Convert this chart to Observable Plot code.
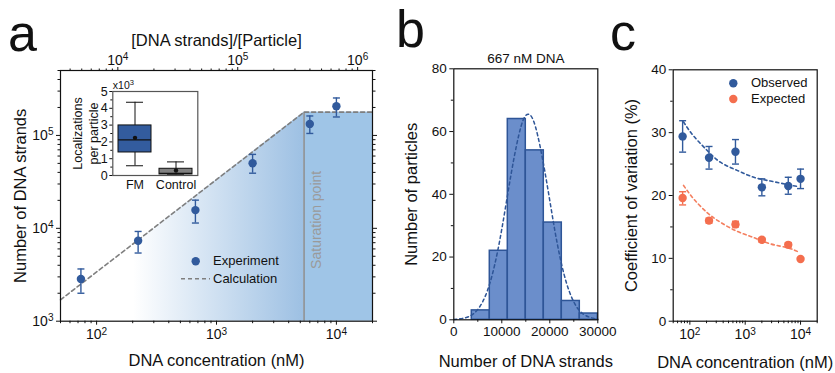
<!DOCTYPE html>
<html><head><meta charset="utf-8">
<script src="https://cdn.jsdelivr.net/npm/d3@7"></script>
<script src="https://cdn.jsdelivr.net/npm/@observablehq/plot@0.6"></script>
<style>
body{margin:0;background:#fff;}
#root{position:relative;width:835px;height:373px;font-family:"Liberation Sans",Arial,sans-serif;color:#111;overflow:hidden;background:#fff;}
#root > svg{position:absolute;}
.lbl{position:absolute;font-size:52px;line-height:52px;color:#111;}
.txt{position:absolute;font-size:13px;line-height:16px;white-space:nowrap;color:#111;}
</style></head><body><div id="root"></div>
<script>
// ---------- Panel a data ----------
const conc = [74, 222, 667, 2000, 6000, 10000];
const strands = [2850, 7350, 15700, 50100, 133000, 206000];
const strandsLo = [2000, 5420, 11400, 39200, 105000, 158000];
const strandsHi = [3650, 9250, 20100, 62500, 162000, 253000];
const calcX = [50, 5370, 20000];
const calcY = [1700, 178000, 178000];
const saturation = 5370;
const ratio = 66.5; // [DNA strands]/[Particle] per nM
const topMajor = [1e4, 1e5, 1e6];
const xMajor = [100, 1000, 10000];
const yMajorA = [1000, 10000, 100000];

// inset box plot (x10^3)
const boxCat = ["FM", "Control"];
const boxQ1 = [1.37, 0.06];
const boxQ3 = [2.98, 0.40];
const boxMed = [2.12, 0.13];
const boxMean = [2.24, 0.30];
const boxLo = [0.58, 0.04];
const boxHi = [4.36, 0.81];
const boxFill = ["#335c9e", "#808080"];

// ---------- Panel b data ----------
const binEdges = [3750, 7500, 11250, 15000, 18750, 22500, 26250, 30000];
const binCounts = [3, 22, 64, 54, 31, 6, 2];
const gaussX = [0, 2000, 4000, 6000, 8000, 10000, 12000, 14000, 15500, 17000, 19000, 21000, 23000, 25000, 27000, 29000, 30000];
const gaussY = [0.1, 0.5, 1.8, 5.7, 14.3, 28.9, 47.0, 61.6, 65.5, 61.6, 47.0, 28.9, 14.3, 5.7, 1.8, 0.5, 0.2];

// ---------- Panel c data ----------
const obsCV = [29.4, 26.0, 26.95, 21.3, 21.5, 22.65];
const obsLo = [26.9, 24.2, 25.0, 19.95, 20.2, 21.1];
const obsHi = [31.9, 27.8, 28.9, 22.65, 22.9, 24.2];
const expCV = [19.6, 16.0, 15.4, 12.95, 12.15, 9.9];
const expLo = [18.5, 15.6, 15.0, 12.6, 11.8, 9.7];
const expHi = [20.6, 16.4, 15.9, 13.2, 12.5, 10.1];
const fitX = [77, 116, 204, 355, 713, 1429, 2864, 5714, 9270];
const obsFit = [31.7, 29.5, 27.2, 25.3, 24.0, 22.9, 22.3, 21.75, 21.4];
const expFit = [21.6, 19.5, 17.3, 15.75, 14.3, 13.3, 12.3, 11.7, 11.0];

// ---------- helpers ----------
const BLUE = "#315a9c", ORANGE = "#f46e4e";
const sup = {"0":"⁰","1":"¹","2":"²","3":"³","4":"⁴","5":"⁵","6":"⁶","7":"⁷","8":"⁸","9":"⁹"};
const unsup = Object.fromEntries(Object.entries(sup).map(([k, v]) => [v, k]));
const pow10 = d => "10" + String(Math.round(Math.log10(d))).split("").map(c => sup[c]).join("");
const minorLog = (lo, hi) => { const out = []; for (let e = Math.floor(Math.log10(lo)); e <= Math.ceil(Math.log10(hi)); e++) for (let m = 2; m <= 9; m++) { const v = m * 10 ** e; if (v >= lo * 0.999 && v <= hi * 1.001) out.push(v); } return out; };
const none = () => "";
const cap = { draw(ctx, size) { const w = Math.sqrt(size / Math.PI); ctx.moveTo(-w, 0); ctx.lineTo(w, 0); } };
const style = {background: "transparent", fontFamily: "Liberation Sans, Arial, sans-serif", fontSize: "13px", color: "#111", overflow: "visible"};
const root = document.getElementById("root");
const ns = "http://www.w3.org/2000/svg";
// turn unicode superscripts into real raised tspans
function raiseSup(svg) {
  svg.querySelectorAll("text").forEach(t => {
    const s = t.textContent;
    const m = s.match(/^(.*?)([⁰¹²³⁴⁵⁶⁷⁸⁹]+)$/);
    if (!m || t.children.length > 1) return;
    const base = m[1], exp = m[2].split("").map(c => unsup[c]).join("");
    t.textContent = base;
    const ts = document.createElementNS(ns, "tspan");
    ts.setAttribute("dy", "-0.45em");
    ts.setAttribute("font-size", "0.72em");
    ts.textContent = exp;
    t.appendChild(ts);
  });
}
function place(svg, left, top) { raiseSup(svg); svg.style.left = left + "px"; svg.style.top = top + "px"; root.appendChild(svg); }
const xTitle = (t, dy) => Plot.text([0], {frameAnchor: "bottom", dy, lineAnchor: "middle", textAnchor: "middle", text: () => t, fontSize: 16.5});
const yTitle = (t, dx) => Plot.text([0], {frameAnchor: "left", dx, rotate: -90, lineAnchor: "middle", textAnchor: "middle", text: () => t, fontSize: 16.5});

// ---------- Panel a ----------
const ptsA = conc.map((c, i) => ({x: c, y: strands[i], lo: strandsLo[i], hi: strandsHi[i]}));
const calc = calcX.map((x, i) => ({x, y: calcY[i]}));
const A = Plot.plot({
  width: 400, height: 373, marginLeft: 60, marginRight: 28, marginTop: 70, marginBottom: 52.3,
  style,
  x: {type: "log", domain: [50, 20000], label: null},
  y: {type: "log", domain: [1000, 500000], label: null},
  marks: [
    Plot.areaY(calc.slice(0, 2), {x: "x", y1: () => 1000, y2: "y", fill: "url(#gradA)"}),
    Plot.rect([0], {x1: () => saturation, x2: () => calcX[2], y1: () => 1000, y2: () => calcY[1], fill: "#9fc5e7"}),
    Plot.ruleX([saturation], {x: d => d, y1: () => 1000, y2: () => calcY[1], stroke: "#8c8c8c", strokeWidth: 1.5}),
    Plot.line(calc, {x: "x", y: "y", stroke: "#7f7f7f", strokeDasharray: "4,3", strokeWidth: 1.6}),
    Plot.text([saturation], {x: d => d, frameAnchor: "middle", dx: 12, dy: 24, rotate: -90, textAnchor: "middle", lineAnchor: "middle", text: () => "Saturation point", fill: "#9a9a9a", fontSize: 14}),
    Plot.ruleX(ptsA, {x: "x", y1: "lo", y2: "hi", stroke: BLUE, strokeWidth: 1.4}),
    Plot.dot(ptsA, {x: "x", y: "lo", symbol: cap, r: 3.5, stroke: BLUE, fill: "none", strokeWidth: 1.4}),
    Plot.dot(ptsA, {x: "x", y: "hi", symbol: cap, r: 3.5, stroke: BLUE, fill: "none", strokeWidth: 1.4}),
    Plot.dot(ptsA, {x: "x", y: "y", r: 4.2, fill: BLUE}),
    Plot.frame({stroke: "#111", strokeWidth: 1.2}),
    Plot.axisX({ticks: xMajor, tickFormat: pow10, tickSize: 4, tickPadding: 4, label: null, fontSize: 14}),
    Plot.axisX({ticks: minorLog(50, 20000), tickFormat: none, tickSize: 2.5, label: null}),
    Plot.axisX({anchor: "top", ticks: topMajor.map(t => t / ratio), tickFormat: d => pow10(d * ratio), tickSize: 4, tickPadding: 2, label: null, fontSize: 14}),
    Plot.axisX({anchor: "top", ticks: minorLog(50 * ratio, 20000 * ratio).map(t => t / ratio), tickFormat: none, tickSize: 2.5, label: null}),
    Plot.axisY({ticks: yMajorA, tickFormat: pow10, tickSize: 4, tickPadding: 3, label: null, fontSize: 14}),
    Plot.axisY({ticks: minorLog(1000, 500000), tickFormat: none, tickSize: 2.5, label: null}),
    Plot.axisY({anchor: "right", ticks: yMajorA, tickFormat: none, tickSize: 4, label: null}),
    Plot.axisY({anchor: "right", ticks: minorLog(1000, 500000), tickFormat: none, tickSize: 2.5, label: null}),
    xTitle("DNA concentration (nM)", 40),
    Plot.text([0], {frameAnchor: "top", dy: -30, lineAnchor: "middle", text: () => "[DNA strands]/[Particle]", fontSize: 16.5}),
    yTitle("Number of DNA strands", -40)
  ]
});
const defs = document.createElementNS(ns, "defs");
defs.innerHTML = '<linearGradient id="gradA" x1="0" x2="1" y1="0" y2="0"><stop offset="0.3" stop-color="#ffffff"/><stop offset="1" stop-color="#9dc0e3"/></linearGradient>';
A.insertBefore(defs, A.firstChild);
place(A, 0, 0);

// ---------- Inset ----------
const box = boxCat.map((c, i) => ({c, q1: boxQ1[i], q3: boxQ3[i], med: boxMed[i], mean: boxMean[i], lo: boxLo[i], hi: boxHi[i], fill: boxFill[i]}));
const I = Plot.plot({
  width: 145, height: 120, marginLeft: 52.3, marginRight: 7.7, marginTop: 13, marginBottom: 23,
  style: {...style, fontSize: "12.5px"},
  x: {type: "band", domain: boxCat, paddingInner: 0.2, paddingOuter: 0.12, label: null},
  y: {domain: [0, 5], label: null},
  marks: [
    Plot.ruleX(box, {x: "c", y1: "lo", y2: "hi", stroke: "#111", strokeWidth: 1}),
    Plot.tickY(box, {x: "c", y: "lo", stroke: "#111", insetLeft: 8, insetRight: 8}),
    Plot.tickY(box, {x: "c", y: "hi", stroke: "#111", insetLeft: 8, insetRight: 8}),
    Plot.barY(box, {x: "c", y1: "q1", y2: "q3", fill: "fill", stroke: "#111", strokeWidth: 1}),
    Plot.tickY(box, {x: "c", y: "med", stroke: "#111", strokeWidth: 1.2}),
    Plot.dot(box, {x: "c", y: "mean", r: 2.2, fill: "#111"}),
    Plot.frame({stroke: "#555", strokeWidth: 1.2}),
    Plot.axisY({ticks: [0, 1, 2, 3, 4, 5], tickFormat: d3.format("d"), tickSize: 3, tickPadding: 2, label: null}),
    Plot.axisY({ticks: [0.5, 1.5, 2.5, 3.5, 4.5], tickFormat: none, tickSize: 2, label: null}),
    Plot.axisX({tickSize: 0, tickPadding: 5, label: null}),
    Plot.text([0], {frameAnchor: "top-left", dy: -6, textAnchor: "start", lineAnchor: "middle", text: () => "x10³", fontSize: 10.5}),
    Plot.text([0], {frameAnchor: "left", dx: -28, rotate: -90, textAnchor: "middle", lineAnchor: "middle", lineHeight: 1.33, text: () => "Localizations\nper particle", fontSize: 12.5})
  ]
});
place(I, 60, 78);

// ---------- Panel b ----------
const bins = binCounts.map((n, i) => ({x1: binEdges[i], x2: binEdges[i + 1], n}));
const gauss = gaussX.map((x, i) => ({x, y: gaussY[i]}));
const B = Plot.plot({
  width: 210, height: 373, marginLeft: 53.3, marginRight: 12.7, marginTop: 68.3, marginBottom: 53.7,
  style,
  x: {domain: [0, 30000], label: null},
  y: {domain: [0, 80], label: null},
  marks: [
    Plot.rectY(bins, {x1: "x1", x2: "x2", y: "n", fill: "#6b8ecb", stroke: "#2e5597", strokeWidth: 1.5}),
    Plot.line(gauss, {x: "x", y: "y", curve: "natural", stroke: "#2e5597", strokeDasharray: "3,3", strokeWidth: 1.5}),
    Plot.frame({stroke: "#111", strokeWidth: 1.2}),
    Plot.axisX({ticks: [0, 10000, 20000, 30000], tickFormat: d3.format("d"), tickSize: 4, tickPadding: 3, label: null, fontSize: 13.5}),
    Plot.axisX({ticks: [5000, 15000, 25000], tickFormat: none, tickSize: 2.5, label: null}),
    Plot.axisY({ticks: [0, 20, 40, 60, 80], tickSize: 4, tickPadding: 3, label: null, fontSize: 13.5}),
    Plot.axisY({ticks: [10, 30, 50, 70], tickFormat: none, tickSize: 2.5, label: null}),
    Plot.text([0], {frameAnchor: "top", dy: -10, lineAnchor: "middle", text: () => "667 nM DNA", fontSize: 13.5}),
    xTitle("Number of DNA strands", 42),
    yTitle("Number of particles", -41.6)
  ]
});
place(B, 400, 0);

// ---------- Panel c ----------
const obs = conc.map((c, i) => ({x: c, y: obsCV[i], lo: obsLo[i], hi: obsHi[i]}));
const exp = conc.map((c, i) => ({x: c, y: expCV[i], lo: expLo[i], hi: expHi[i]}));
const fitO = fitX.map((x, i) => ({x, y: obsFit[i]}));
const fitE = fitX.map((x, i) => ({x, y: expFit[i]}));
const errMarks = (d, col) => [
  Plot.ruleX(d, {x: "x", y1: "lo", y2: "hi", stroke: col, strokeWidth: 1.4}),
  Plot.dot(d, {x: "x", y: "lo", symbol: cap, r: 3.5, stroke: col, fill: "none", strokeWidth: 1.4}),
  Plot.dot(d, {x: "x", y: "hi", symbol: cap, r: 3.5, stroke: col, fill: "none", strokeWidth: 1.4}),
  Plot.dot(d, {x: "x", y: "y", r: 4.2, fill: col})
];
const C = Plot.plot({
  width: 225, height: 373, marginLeft: 62.7, marginRight: 18.3, marginTop: 69.3, marginBottom: 52.3,
  style,
  x: {type: "log", domain: [50, 20000], label: null},
  y: {domain: [0, 40], label: null},
  marks: [
    Plot.line(fitO, {x: "x", y: "y", curve: "natural", stroke: BLUE, strokeDasharray: "3,3", strokeWidth: 1.6}),
    Plot.line(fitE, {x: "x", y: "y", curve: "natural", stroke: "#f47f5f", strokeDasharray: "3,3", strokeWidth: 1.6}),
    ...errMarks(obs, BLUE),
    ...errMarks(exp, ORANGE),
    Plot.frame({stroke: "#111", strokeWidth: 1.2}),
    Plot.axisX({ticks: xMajor, tickFormat: pow10, tickSize: 4, tickPadding: 4, label: null, fontSize: 14}),
    Plot.axisX({ticks: minorLog(50, 20000), tickFormat: none, tickSize: 2.5, label: null}),
    Plot.axisY({ticks: [0, 10, 20, 30, 40], tickSize: 4, tickPadding: 3, label: null, fontSize: 13.5}),
    Plot.axisY({ticks: [5, 15, 25, 35], tickFormat: none, tickSize: 2.5, label: null}),
    xTitle("DNA concentration (nM)", 42),
    yTitle("Coefficient of variation (%)", -41)
  ]
});
place(C, 610, 0);

// ---------- legends & panel letters ----------
const legSvg = (left, top, inner) => {
  const s = document.createElementNS(ns, "svg");
  s.setAttribute("width", 40); s.setAttribute("height", 40);
  s.style.left = left + "px"; s.style.top = top + "px";
  s.innerHTML = inner; root.appendChild(s);
};
const addText = (cls, left, top, t) => { const d = document.createElement("div"); d.className = cls; d.style.left = left + "px"; d.style.top = top + "px"; d.textContent = t; root.appendChild(d); };
legSvg(175, 250, `<circle cx="20.7" cy="11.3" r="4.2" fill="${BLUE}"/><line x1="6" x2="35" y1="28.7" y2="28.7" stroke="#7f7f7f" stroke-width="1.6" stroke-dasharray="4,3"/>`);
addText("txt", 213, 253.3, "Experiment");
addText("txt", 213, 270.7, "Calculation");
legSvg(713, 73, `<circle cx="20.3" cy="10.3" r="4.2" fill="${BLUE}"/><circle cx="20.3" cy="26" r="4.2" fill="${ORANGE}"/>`);
addText("txt", 751, 75.3, "Observed");
addText("txt", 751, 91, "Expected");
addText("lbl", 8, 7, "a");
addText("lbl", 396, 3, "b");
addText("lbl", 610, 6, "c");
</script></body></html>
